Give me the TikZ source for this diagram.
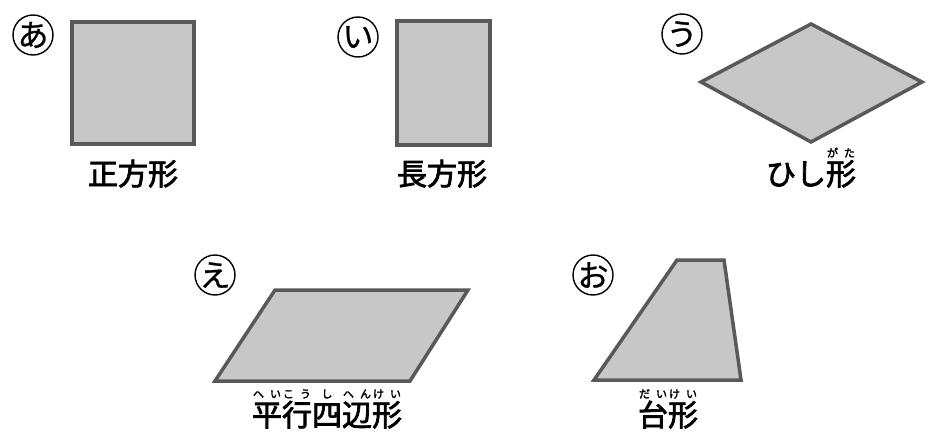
\documentclass[tikz,border=0pt]{standalone}
\usepackage{fontspec}
\setmainfont{Noto Sans CJK JP}
\newfontfamily\lblfont{Noto Sans CJK JP}[FakeBold=2.5]
\newfontfamily\marufont{Noto Sans CJK JP}[FakeBold=0.8]
\usetikzlibrary{positioning}
\newcommand{\rubi}[2]{\ooalign{#1\cr\hidewidth\raisebox{28pt}{\fontsize{11}{11}\selectfont\hbox to 28pt{#2}}\hidewidth\cr}}
\tikzset{
	fig/.style={
		draw=black!65,
		fill=black!22,
		line width=3.5pt,
		line join=miter
	},
	maru/.style={
		circle,
		draw,
		line width=1.4pt,
		minimum size=40pt,
		inner sep=-4pt,
		font=\marufont\fontsize{31}{31}\selectfont
	},
	lbl/.style={
		anchor=base,
		inner sep=0pt,
		font=\lblfont\fontsize{30}{30}\selectfont
	}
}

\begin{document}
\begin{tikzpicture}[x=1pt,y=-1pt]
		\useasboundingbox (0,0) rectangle (942,436);
		% square
		\node[maru] (a) at (33,35) {あ};
		\coordinate (A1) at (72,22);
		\coordinate (A2) at (194,144);
		\draw[fig] (A1) rectangle (A2);
		\node[lbl] (seihoukei) at (133,185) {正方形};
		
		% rectangle
		\node[maru] (i) at (358,37) {い};
		\coordinate (I1) at (397,21);
		\coordinate (I2) at (490,145);
		\draw[fig] (I1) rectangle (I2);
		\node[lbl] (chouhoukei) at (442,185) {長方形};
		
		% rhombus
		\node[maru] (u) at (682,34) {う};
		\coordinate (U1) at (811,24);
		\coordinate (U2) at (922,82);
		\coordinate (U3) at (811,142);
		\coordinate (U4) at (701,82);
		\draw[fig] (U1) -- (U2) -- (U3) -- (U4) -- cycle;
		\node[lbl] (hishigata) at (811,185) {ひし\rubi{形}{が\hfil た}};
		
		% parallelogram
		\node[maru] (e) at (215,275) {え};
		\coordinate (E1) at (275,290);
		\coordinate (E2) at (468,290);
		\coordinate (E3) at (410,381);
		\coordinate (E4) at (215,381);
		\draw[fig] (E1) -- (E2) -- (E3) -- (E4) -- cycle;
		\node[lbl] (heikoushihenkei) at (327,426) {\rubi{平}{へ\hfil い}\rubi{行}{こ\hfil う}\rubi{四}{\hfil し\hfil}\rubi{辺}{へ\hfil ん}\rubi{形}{け\hfil い}};
		
		% trapezoid
		\node[maru] (o) at (593,275) {お};
		\coordinate (O1) at (677,260);
		\coordinate (O2) at (724,260);
		\coordinate (O3) at (741,380);
		\coordinate (O4) at (594,380);
		\draw[fig] (O1) -- (O2) -- (O3) -- (O4) -- cycle;
		\node[lbl] (daikei) at (668,426) {\rubi{台}{だ\hfil い}\rubi{形}{け\hfil い}};
\end{tikzpicture}
\end{document}
